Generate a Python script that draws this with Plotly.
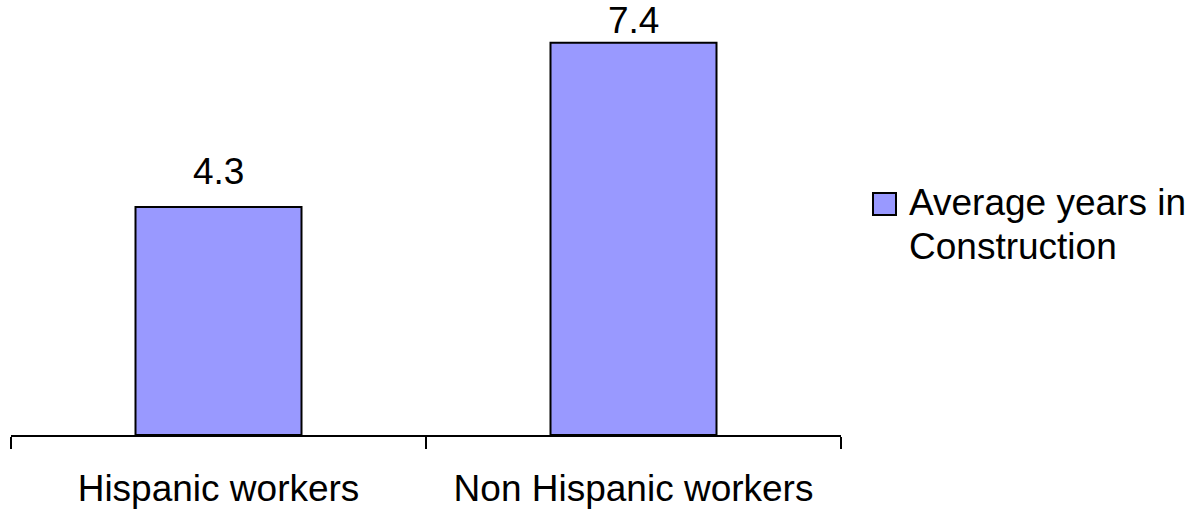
import plotly.graph_objects as go

# Chart data
categories = ["Hispanic workers", "Non Hispanic workers"]
avg_years = [4.3, 7.4]
series_lines = ["Average years in", "Construction"]

FONT = "Arial, Liberation Sans, sans-serif"
FONT_SIZE = 37
BAR_COLOR = "#9999FF"

# Plot area geometry (pixels)
PLOT_LEFT, PLOT_TOP, PLOT_W, PLOT_H = 11, 11, 830, 424
Y_MAX = 8
PX_PER_UNIT = PLOT_H / Y_MAX

fig = go.Figure()
fig.add_trace(go.Bar(
    x=categories,
    y=avg_years,
    width=0.4,
    marker=dict(color=BAR_COLOR, line=dict(color="black", width=2)),
    showlegend=False,
))

# Value labels above each bar; kept inside the chart area near the top
for cat, val in zip(categories, avg_years):
    room = (Y_MAX - val) * PX_PER_UNIT
    shift = min(13, room - 32)
    fig.add_annotation(
        x=cat, y=val, xref="x", yref="y",
        text=f"{val:.1f}", showarrow=False,
        yanchor="bottom", yshift=shift,
        font=dict(family=FONT, size=FONT_SIZE, color="black"),
    )


def px_x(px):
    return (px - PLOT_LEFT) / PLOT_W


def px_y(px):
    return (PLOT_TOP + PLOT_H - px) / PLOT_H


# Legend: swatch plus series name, to the right of the plot
fig.add_shape(
    type="rect", xref="paper", yref="paper",
    x0=px_x(873), x1=px_x(896),
    y0=px_y(215), y1=px_y(193),
    fillcolor=BAR_COLOR, line=dict(color="black", width=2),
)
for line_text, bottom_px in zip(series_lines, [225, 269]):
    fig.add_annotation(
        xref="paper", yref="paper",
        x=px_x(907), y=px_y(bottom_px),
        xanchor="left", yanchor="bottom", align="left",
        text=line_text, showarrow=False,
        font=dict(family=FONT, size=FONT_SIZE, color="black"),
    )

fig.update_layout(
    width=1194, height=513,
    margin=dict(l=PLOT_LEFT, r=1194 - PLOT_LEFT - PLOT_W, t=PLOT_TOP, b=513 - PLOT_TOP - PLOT_H),
    paper_bgcolor="white", plot_bgcolor="white",
    font=dict(family=FONT, size=FONT_SIZE, color="black"),
    showlegend=False,
)
fig.update_xaxes(
    type="category", automargin=False,
    showline=True, linecolor="black", linewidth=2,
    ticks="outside", tickson="boundaries", ticklen=12, tickwidth=2, tickcolor="black",
    ticklabelstandoff=20,
    tickfont=dict(family=FONT, size=FONT_SIZE, color="black"),
    showgrid=False, zeroline=False,
)
fig.update_yaxes(visible=False, automargin=False, range=[0, Y_MAX], showgrid=False, zeroline=False)

fig.write_html("out.html")
